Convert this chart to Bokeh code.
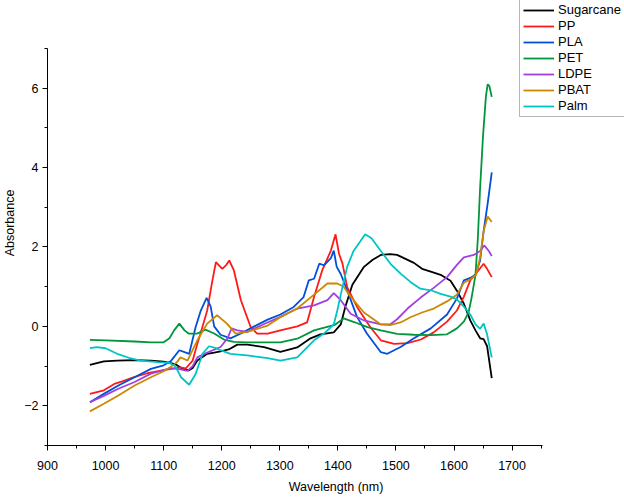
from bokeh.plotting import figure
from bokeh.models import Range1d, SingleIntervalTicker, Legend, LegendItem
from bokeh.embed import file_html
from bokeh.resources import INLINE

# ---------------- data ----------------
series_names = ["Sugarcane", "PP", "PLA", "PET", "LDPE", "PBAT", "Palm"]
series_colors = ["#000000", "#FF1A1A", "#0050D8", "#00963C", "#A040E0", "#CC8800", "#00C4C4"]

sugarcane_wl = [973, 997, 1020, 1050, 1078, 1100, 1120, 1130, 1143, 1150, 1158, 1175, 1187, 1198, 1212,
                1227, 1244, 1273, 1301, 1330, 1353, 1370, 1393, 1405, 1413, 1425, 1445, 1460, 1474, 1490,
                1502, 1531, 1545, 1560, 1577, 1594, 1605, 1617, 1628, 1637, 1645, 1651, 1657, 1665]
sugarcane_abs = [-0.97, -0.88, -0.86, -0.85, -0.86, -0.89, -0.95, -1.05, -1.11, -1.05, -0.86, -0.69, -0.66,
                 -0.63, -0.58, -0.46, -0.46, -0.52, -0.64, -0.53, -0.30, -0.20, -0.15, 0.05, 0.50, 1.05,
                 1.50, 1.68, 1.80, 1.82, 1.80, 1.60, 1.45, 1.38, 1.30, 1.15, 0.90, 0.57, 0.15, -0.10,
                 -0.30, -0.32, -0.50, -1.30]

pp_wl = [973, 997, 1015, 1030, 1049, 1072, 1100, 1129, 1138, 1150, 1158, 1167, 1175, 1184, 1190, 1201,
         1208, 1213, 1221, 1233, 1250, 1261, 1279, 1301, 1330, 1347, 1359, 1373, 1388, 1396, 1402, 1408,
         1416, 1433, 1456, 1474, 1497, 1520, 1543, 1565, 1588, 1605, 1617, 1628, 1640, 1651, 1657, 1665]
pp_abs = [-1.70, -1.61, -1.45, -1.38, -1.28, -1.18, -1.10, -1.03, -1.06, -0.86, -0.44, 0.00, 0.40, 1.16,
          1.62, 1.45, 1.55, 1.66, 1.41, 0.66, -0.02, -0.18, -0.18, -0.10, 0.00, 0.10, 0.74, 1.41, 1.91,
          2.32, 1.83, 1.58, 0.99, 0.49, -0.02, -0.35, -0.44, -0.42, -0.33, -0.15, 0.12, 0.40, 0.75, 1.16,
          1.37, 1.58, 1.45, 1.24]

pla_wl = [973, 997, 1022, 1050, 1078, 1100, 1112, 1127, 1136, 1144, 1155, 1164, 1174, 1181, 1187, 1198,
          1215, 1233, 1256, 1279, 1301, 1324, 1341, 1350, 1359, 1368, 1376, 1388, 1393, 1398, 1405, 1416,
          1433, 1450, 1474, 1485, 1508, 1531, 1560, 1588, 1605, 1617, 1628, 1637, 1645, 1651, 1658, 1665]
pla_abs = [-1.91, -1.70, -1.49, -1.28, -1.07, -0.98, -0.88, -0.60, -0.65, -0.69, -0.02, 0.40, 0.72, 0.50,
           0.00, -0.21, -0.30, -0.18, 0.00, 0.17, 0.30, 0.49, 0.74, 1.16, 1.20, 1.58, 1.54, 1.72, 1.91,
           1.50, 1.32, 0.91, 0.24, -0.18, -0.65, -0.69, -0.52, -0.30, -0.05, 0.30, 0.70, 1.16, 1.22, 1.30,
           1.66, 2.40, 3.10, 3.88]

pet_wl = [973, 1000, 1050, 1078, 1100, 1110, 1118, 1127, 1136, 1143, 1158, 1172, 1187, 1204, 1221, 1244,
          1270, 1301, 1330, 1359, 1380, 1395, 1410, 1428, 1451, 1474, 1502, 1531, 1560, 1588, 1605, 1617,
          1625, 1630, 1637, 1641, 1645, 1650, 1655, 1658, 1661, 1665]
pet_abs = [-0.34, -0.35, -0.38, -0.40, -0.40, -0.30, -0.10, 0.07, -0.10, -0.18, -0.18, -0.08, -0.18,
           -0.33, -0.39, -0.40, -0.40, -0.40, -0.31, -0.10, -0.02, 0.04, 0.20, 0.11, -0.02, -0.10, -0.19,
           -0.21, -0.22, -0.20, -0.05, 0.12, 0.35, 0.70, 1.30, 2.20, 3.50, 4.80, 5.80, 6.10, 6.05, 5.78]

ldpe_wl = [973, 997, 1022, 1050, 1078, 1100, 1112, 1129, 1141, 1150, 1158, 1175, 1198, 1210, 1217, 1227,
           1244, 1273, 1301, 1330, 1359, 1382, 1393, 1405, 1422, 1445, 1474, 1490, 1502, 1520, 1542, 1565,
           1588, 1605, 1617, 1634, 1645, 1652, 1660, 1665]
ldpe_abs = [-1.91, -1.75, -1.57, -1.40, -1.19, -1.10, -1.05, -1.08, -1.12, -1.00, -0.78, -0.66, -0.52,
            -0.30, -0.05, -0.10, -0.14, 0.06, 0.24, 0.45, 0.53, 0.66, 0.84, 0.66, 0.32, 0.15, 0.05, 0.05,
            0.18, 0.45, 0.72, 0.97, 1.24, 1.55, 1.74, 1.80, 1.90, 2.04, 1.90, 1.77]

pbat_wl = [973, 997, 1022, 1050, 1078, 1100, 1112, 1123, 1129, 1141, 1158, 1175, 1192, 1209, 1224, 1244,
           1279, 1301, 1330, 1359, 1382, 1399, 1410, 1422, 1445, 1474, 1490, 1508, 1525, 1545, 1565, 1588,
           1605, 1617, 1628, 1638, 1645, 1651, 1658, 1665]
pbat_abs = [-2.14, -1.95, -1.74, -1.49, -1.28, -1.13, -1.02, -0.90, -0.78, -0.86, -0.35, 0.07, 0.28, 0.07,
            -0.18, -0.14, 0.02, 0.23, 0.45, 0.80, 1.08, 1.08, 1.00, 0.75, 0.35, 0.05, 0.03, 0.10, 0.23,
            0.35, 0.45, 0.63, 0.80, 1.10, 1.18, 1.30, 1.74, 2.40, 2.77, 2.63]

palm_wl = [973, 985, 1000, 1020, 1040, 1060, 1090, 1110, 1120, 1130, 1144, 1155, 1167, 1178, 1190, 1198,
           1215, 1244, 1279, 1301, 1330, 1359, 1376, 1393, 1399, 1405, 1416, 1427, 1439, 1447, 1458, 1474,
           1491, 1508, 1525, 1542, 1560, 1577, 1594, 1605, 1617, 1628, 1637, 1645, 1651, 1657, 1665]
palm_abs = [-0.55, -0.52, -0.55, -0.69, -0.79, -0.86, -0.90, -0.92, -1.00, -1.28, -1.47, -1.20, -0.69,
            -0.50, -0.55, -0.60, -0.69, -0.73, -0.80, -0.86, -0.78, -0.35, -0.18, 0.05, 0.40, 0.80, 1.50,
            1.90, 2.15, 2.32, 2.22, 1.90, 1.57, 1.33, 1.12, 0.95, 0.91, 0.82, 0.75, 0.68, 0.50, 0.30, 0.05,
            -0.06, 0.07, -0.20, -0.78]

x_axis_span = (900, 1752)   # drawn extent of the wavelength axis
y_axis_span = (-3, 7)       # drawn extent of the absorbance axis

all_wl = [sugarcane_wl, pp_wl, pla_wl, pet_wl, ldpe_wl, pbat_wl, palm_wl]
all_abs = [sugarcane_abs, pp_abs, pla_abs, pet_abs, ldpe_abs, pbat_abs, palm_abs]

# ---------------- figure ----------------
FONT = "Liberation Sans"
W, H = 624, 498
p = figure(width=W, height=H, output_backend="svg", toolbar_location=None,
           x_range=Range1d(900, 1893.6), y_range=Range1d(-3, 8.209),
           min_border_left=0, min_border_right=0, min_border_top=0, min_border_bottom=53,
           background_fill_color="white", border_fill_color="white")
p.outline_line_color = None
p.grid.visible = False

p.xaxis.ticker = SingleIntervalTicker(interval=100, num_minor_ticks=2)
p.yaxis.ticker = SingleIntervalTicker(interval=2, num_minor_ticks=2)
p.xaxis.bounds = x_axis_span
p.yaxis.bounds = y_axis_span

for ax in (p.xaxis[0], p.yaxis[0]):
    ax.axis_line_color = "black"
    ax.axis_line_width = 1
    ax.major_tick_in = 0
    ax.major_tick_out = 5
    ax.minor_tick_in = 0
    ax.minor_tick_out = 3
    ax.major_tick_line_color = "black"
    ax.minor_tick_line_color = "black"
    ax.major_label_text_font = FONT
    ax.major_label_text_font_size = "12.5px"
    ax.major_label_text_color = "black"
    ax.axis_label_text_font = FONT
    ax.axis_label_text_font_size = "12.5px"
    ax.axis_label_text_font_style = "normal"
    ax.axis_label_text_color = "black"

p.xaxis.axis_label = "Wavelength (nm)"
p.yaxis.axis_label = "Absorbance"
p.xaxis.major_label_standoff = 10
p.xaxis.axis_label_standoff = 7
p.yaxis.major_label_standoff = 4
p.yaxis.axis_label_standoff = 4

items = []
for name, col, wl, ab in zip(series_names, series_colors, all_wl, all_abs):
    r = p.line(wl, ab, line_color=col, line_width=1.8)
    items.append(LegendItem(label=name, renderers=[r]))

legend = Legend(items=items, location=(472, 328))
legend.glyph_width = 31
legend.glyph_height = 14
legend.label_height = 14
legend.spacing = 1
legend.padding = 3
legend.margin = 0
legend.label_standoff = 4
legend.border_line_color = "#707070"
legend.border_line_width = 1
legend.background_fill_color = "white"
legend.background_fill_alpha = 1
legend.label_text_font = FONT
legend.label_text_font_size = "13px"
legend.label_text_color = "black"
p.add_layout(legend)

open("out.html", "w").write(file_html(p, INLINE))
